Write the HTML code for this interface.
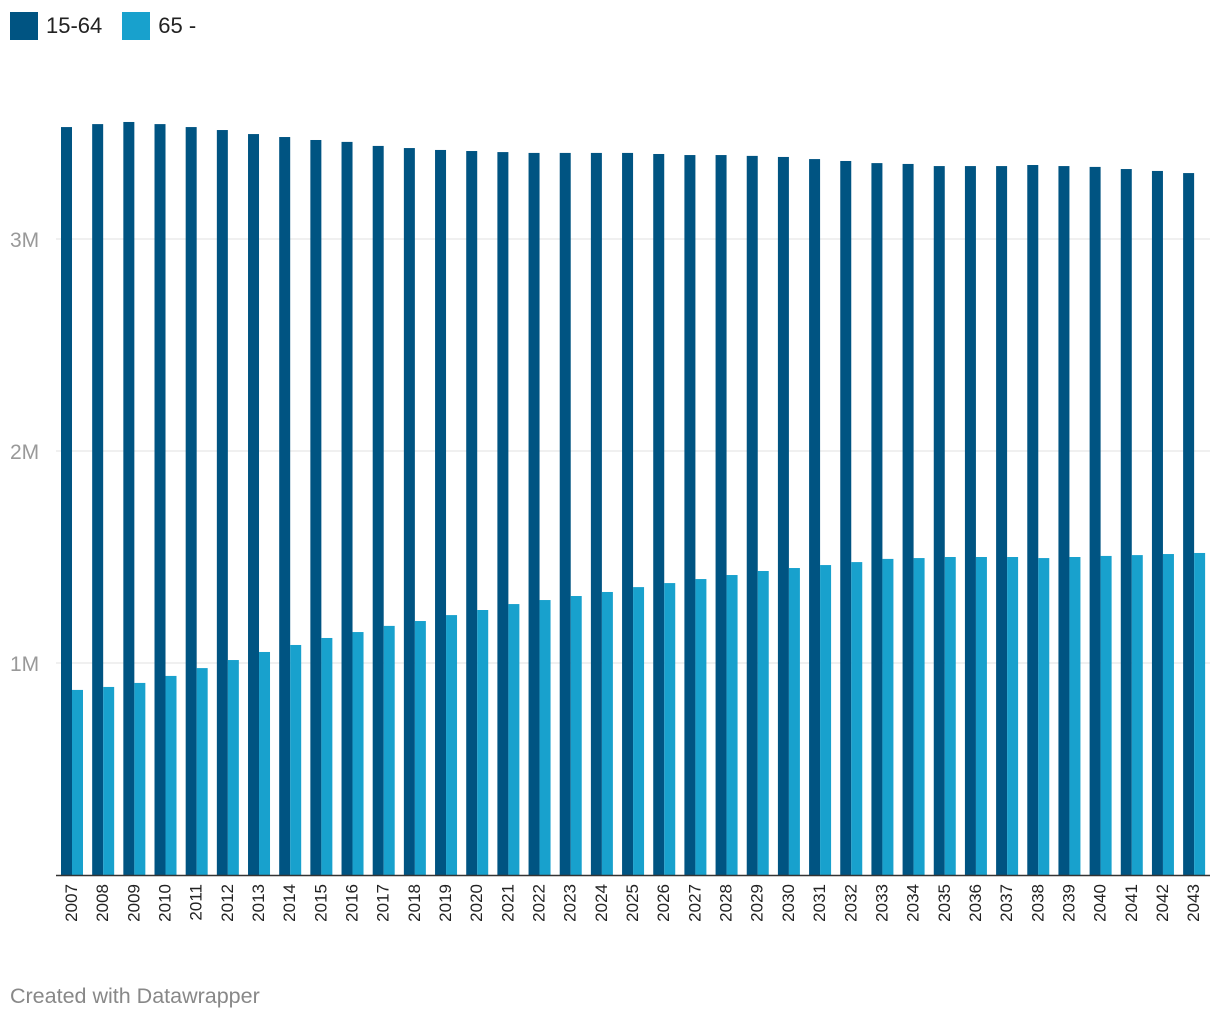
<!DOCTYPE html>
<html><head><meta charset="utf-8">
<style>
body{margin:0;background:#fff;font-family:"Liberation Sans",sans-serif;}
#wrap{position:relative;width:1220px;height:1020px;overflow:hidden;}
.legend{position:absolute;top:12px;left:10px;display:flex;font-size:22px;color:#222;}
.li{display:flex;align-items:center;margin-right:20px;}
.sw{width:28px;height:28px;margin-right:8px;}
.credit{position:absolute;left:10px;top:984px;font-size:21.5px;color:#888;}
</style></head><body>
<div id="wrap">
<div class="legend">
<div class="li"><div class="sw" style="background:#005482"></div>15-64</div>
<div class="li"><div class="sw" style="background:#18a1cd"></div>65 -</div>
</div>
<svg id="chart" width="1220" height="1020" style="position:absolute;left:0;top:0"></svg>
<div class="credit">Created with Datawrapper</div>
</div>
<script>
const years=[2007,2008,2009,2010,2011,2012,2013,2014,2015,2016,2017,2018,2019,2020,2021,2022,2023,2024,2025,2026,2027,2028,2029,2030,2031,2032,2033,2034,2035,2036,2037,2038,2039,2040,2041,2042,2043];
const working=[3.528,3.542,3.552,3.542,3.528,3.514,3.495,3.481,3.467,3.458,3.439,3.429,3.420,3.415,3.410,3.406,3.406,3.406,3.406,3.401,3.396,3.396,3.392,3.387,3.377,3.368,3.358,3.354,3.344,3.344,3.344,3.349,3.344,3.340,3.330,3.321,3.311];
const elderly=[0.873,0.887,0.906,0.939,0.976,1.014,1.052,1.085,1.118,1.146,1.175,1.198,1.226,1.250,1.278,1.297,1.316,1.335,1.358,1.377,1.396,1.415,1.434,1.448,1.462,1.476,1.491,1.495,1.500,1.500,1.500,1.495,1.500,1.505,1.509,1.514,1.519];
const ticks=[1,2,3];
const tickLabels=["1M","2M","3M"];
const NS="http://www.w3.org/2000/svg";
const svg=document.getElementById('chart');
const x0=56,band=31.17,y0=875,ppm=212;
const xs=i=>x0+i*band;
const ys=v=>y0-v*ppm;
function mk(t,a){const e=document.createElementNS(NS,t);for(const k in a)e.setAttribute(k,a[k]);svg.appendChild(e);return e;}
ticks.forEach((t,i)=>{
 const g=mk('line',{x1:x0,x2:1210,y1:ys(t),y2:ys(t),stroke:'#e0e0e0','stroke-width':1});
 
 
 const l=mk('text',{x:10,y:ys(t)+8,'font-size':21,fill:'#999','font-family':'Liberation Sans'});
 l.textContent=tickLabels[i];
 
 
});
years.forEach((y,i)=>{
 const bx=xs(i)+5;
 const a=mk('rect',{x:bx,y:ys(working[i]),width:11,height:working[i]*ppm,fill:'#005482'});
 
 
 const b=mk('rect',{x:bx+11,y:ys(elderly[i]),width:11,height:elderly[i]*ppm,fill:'#18a1cd'});
 
 
 const cx=bx+11+5;
 const t=mk('text',{x:cx,y:884,'font-size':17,fill:'#222','font-family':'Liberation Sans','text-anchor':'end',transform:`rotate(-90 ${cx} 884)`});
 t.textContent=y;
 
 
});
const ax=mk('line',{x1:x0,x2:1210,y1:y0+0.5,y2:y0+0.5,stroke:'#333','stroke-width':1.5});


</script>
</body></html>
